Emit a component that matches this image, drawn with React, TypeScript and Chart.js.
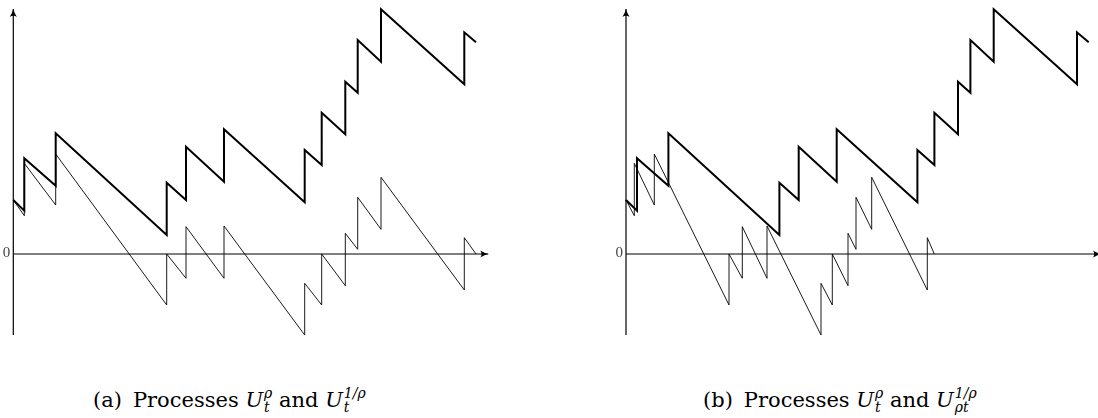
import React, { useEffect, useRef } from "react";
import { Chart, registerables } from "chart.js";

Chart.register(...registerables);

// ---- data (time units, value units; 0 = axis) ----
// U^rho: same in both panels
const jumpTimes = [0, 1.1, 1.1, 4.24, 4.24, 15.34, 15.34, 17.27, 17.27, 21.07, 21.07, 29.14, 29.14, 30.84, 30.84, 33.2, 33.2, 34.44, 34.44, 36.77, 36.77, 45.1, 45.1, 46.27];
const thickValues = [5.4, 4.33, 9.57, 6.83, 12.07, 1.9, 7.13, 5.4, 10.73, 7.23, 12.47, 5.17, 10.4, 8.9, 14.13, 11.97, 17.23, 16.13, 21.4, 19.23, 24.47, 16.97, 22.17, 21.17];
// U^{1/rho}: panel (a) on time t, panel (b) on time rho*t
const thinValues = [5.4, 3.83, 9.07, 4.9, 10.0, -5.1, 0, -2.43, 2.73, -2.43, 2.8, -8.1, -2.93, -5.1, 0, -3.17, 2.07, 0.47, 5.67, 2.47, 7.67, -3.6, 1.63, 0];
const compressedTimes = [0, 0.83, 0.83, 2.83, 2.83, 10.3, 10.3, 11.63, 11.63, 14.1, 14.1, 19.5, 19.5, 20.63, 20.63, 22.2, 22.2, 23.0, 23.0, 24.57, 24.57, 30.13, 30.13, 30.83];
// axes
const xAxisTimes = [0, 47.5];
const xAxisValues = [0, 0];
const yAxisTimes = [0, 0];
const yAxisValues = [-8.1, 24.5];
const zeroLabel = "0";

const pts = (xs: number[], ys: number[]) => xs.map((x, i) => ({ x, y: ys[i] }));

const arrowPlugin = {
  id: "arrows",
  afterDatasetsDraw(chart: any) {
    const { ctx, scales } = chart;
    const sx = scales.x;
    const sy = scales.y;
    const drawHead = (tx: number, ty: number, ang: number) => {
      const L = 8, W = 3.6;
      ctx.save();
      ctx.translate(tx, ty);
      ctx.rotate(ang);
      ctx.beginPath();
      ctx.moveTo(0, 0);
      ctx.quadraticCurveTo(-L * 0.45, -W * 0.25, -L, -W);
      ctx.quadraticCurveTo(-L * 0.7, 0, -L, W);
      ctx.quadraticCurveTo(-L * 0.45, W * 0.25, 0, 0);
      ctx.closePath();
      ctx.fillStyle = "#000";
      ctx.fill();
      ctx.restore();
    };
    drawHead(sx.getPixelForValue(xAxisTimes[1]), sy.getPixelForValue(xAxisValues[1]), 0);
    drawHead(sx.getPixelForValue(yAxisTimes[1]), sy.getPixelForValue(yAxisValues[1]), -Math.PI / 2);
    ctx.save();
    ctx.font = '15px "Liberation Serif", serif';
    ctx.fillStyle = "#444";
    ctx.textAlign = "right";
    ctx.textBaseline = "middle";
    ctx.fillText(zeroLabel, sx.getPixelForValue(0) - 3, sy.getPixelForValue(0) - 1);
    ctx.restore();
  },
};

function Panel({ thinTimes, xMin, xMax, left }: { thinTimes: number[]; xMin: number; xMax: number; left: number }) {
  const ref = useRef<HTMLCanvasElement>(null);
  useEffect(() => {
    const chart = new Chart(ref.current as HTMLCanvasElement, {
      type: "scatter",
      data: {
        datasets: [
          { data: pts(jumpTimes, thickValues), showLine: true, borderColor: "#000", borderWidth: 2, pointRadius: 0, order: 0, borderJoinStyle: "miter" } as any,
          { data: pts(thinTimes, thinValues), showLine: true, borderColor: "#000", borderWidth: 0.9, pointRadius: 0, order: 1 } as any,
          { data: pts(xAxisTimes, xAxisValues), showLine: true, borderColor: "#000", borderWidth: 1.2, pointRadius: 0, order: 2 } as any,
          { data: pts(yAxisTimes, yAxisValues), showLine: true, borderColor: "#000", borderWidth: 1.2, pointRadius: 0, order: 2 } as any,
        ],
      },
      options: {
        responsive: false,
        animation: false,
        devicePixelRatio: 1,
        layout: { padding: 0 },
        plugins: { legend: { display: false }, tooltip: { enabled: false } },
        events: [],
        scales: {
          x: { type: "linear", display: false, min: xMin, max: xMax },
          y: { type: "linear", display: false, min: -9.6, max: 25.4 },
        },
      },
      plugins: [arrowPlugin],
    });
    return () => chart.destroy();
  }, []);
  return <canvas ref={ref} width={549} height={350} style={{ position: "absolute", left, top: 0, width: 549, height: 350 }} />;
}

function U({ sup, sub }: { sup: string; sub: string }) {
  return (
    <span style={{ whiteSpace: "nowrap" }}>
      <i>U</i>
      <span style={{ display: "inline-block", verticalAlign: "-5px", fontSize: "14px", lineHeight: "14px", marginLeft: 1 }}>
        <span style={{ display: "block" }}><i>{sup}</i></span>
        <span style={{ display: "block" }}><i>{sub}</i></span>
      </span>
    </span>
  );
}

function Caption({ left, label, sub2 }: { left: number; label: string; sub2: string }) {
  return (
    <div style={{ position: "absolute", left, top: 386, fontFamily: '"DejaVu Serif", serif', fontSize: 21, lineHeight: "21px", color: "#000", whiteSpace: "nowrap" }}>
      <span style={{ marginRight: 11 }}>({label})</span>Processes <U sup="ρ" sub="t" /> and <U sup="1/ρ" sub={sub2} />
    </div>
  );
}

export default function App() {
  useEffect(() => {
    document.body.style.margin = "0";
  }, []);
  return (
    <div style={{ position: "relative", width: 1098, height: 418, background: "#fff", overflow: "hidden" }}>
      <Panel thinTimes={jumpTimes} xMin={-1.33} xMax={53.57} left={0} />
      <Panel thinTimes={compressedTimes} xMin={-7.7} xMax={47.2} left={549} />
      <Caption left={93} label="a" sub2="t" />
      <Caption left={703} label="b" sub2="ρt" />
    </div>
  );
}
